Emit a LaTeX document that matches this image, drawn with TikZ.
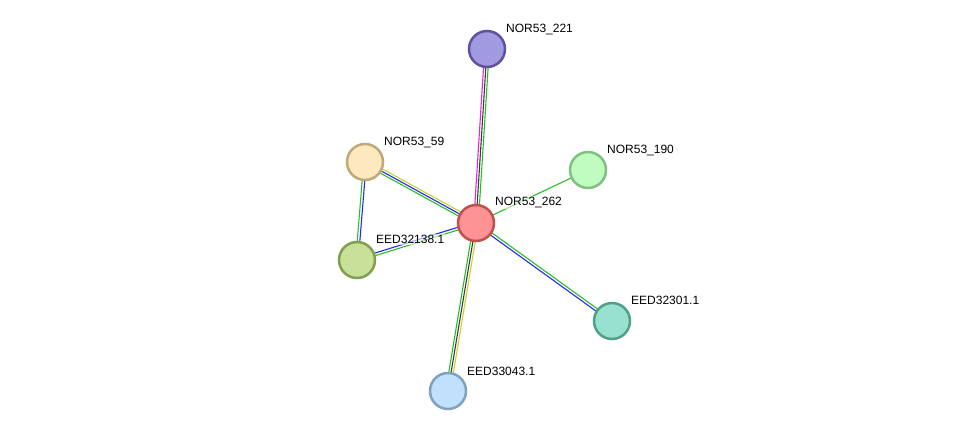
\documentclass[tikz,border=0pt]{standalone}
\usepackage{fontspec}
\setmainfont{Liberation Sans}
\usetikzlibrary{calc,backgrounds}
\definecolor{magenta1}{RGB}{220,40,220}
\definecolor{green1}{RGB}{40,190,40}
\definecolor{blue1}{RGB}{40,40,240}
\definecolor{yellow1}{RGB}{200,210,40}
\definecolor{gray1}{RGB}{60,60,60}
\tikzset{
  prot/.style={circle, minimum size=36pt, inner sep=0pt, line width=2.5pt},
  lbl/.style={anchor=west, inner sep=1pt, font=\fontsize{12}{14}\selectfont},
  lnk/.style={line width=1.1pt}
}
\newcommand{\lnkline}[4]{\draw[lnk, #4] ($(#1)!#3!90:(#2)$) -- ($(#2)!#3!-90:(#1)$);}

\begin{document}
\begin{tikzpicture}[x=1pt, y=-1pt]
\useasboundingbox (0,0) rectangle (975,437);
\node[prot, fill={rgb,255:red,162;green,154;blue,224}, draw={rgb,255:red,96;green,80;blue,160}] (n221) at (487,49) {};
\node[prot, fill={rgb,255:red,255;green,146;blue,146}, draw={rgb,255:red,192;green,80;blue,80}] (n262) at (476,223) {};
\node[prot, fill={rgb,255:red,253;green,232;blue,192}, draw={rgb,255:red,192;green,168;blue,120}] (n59) at (365,162) {};
\node[prot, fill={rgb,255:red,192;green,252;blue,192}, draw={rgb,255:red,128;green,192;blue,128}] (n190) at (588,170) {};
\node[prot, fill={rgb,255:red,200;green,224;blue,152}, draw={rgb,255:red,128;green,160;blue,80}] (e32138) at (357,260) {};
\node[prot, fill={rgb,255:red,152;green,224;blue,208}, draw={rgb,255:red,80;green,160;blue,136}] (e32301) at (612,321) {};
\node[prot, fill={rgb,255:red,192;green,224;blue,252}, draw={rgb,255:red,128;green,160;blue,192}] (e33043) at (448,391) {};

\begin{scope}[on background layer]
\lnkline{n262}{n221}{2.3pt}{magenta1}
\lnkline{n262}{n221}{0pt}{gray1}
\lnkline{n262}{n221}{-2.3pt}{green1}
\lnkline{n262}{n59}{-2.3pt}{yellow1}
\lnkline{n262}{n59}{0pt}{blue1}
\lnkline{n262}{n59}{2.3pt}{green1}
\lnkline{n59}{e32138}{-1.3pt}{green1}
\lnkline{n59}{e32138}{1.3pt}{blue1}
\lnkline{n262}{e32138}{-1.3pt}{blue1}
\lnkline{n262}{e32138}{1.3pt}{green1}
\lnkline{n262}{n190}{0pt}{green1}
\lnkline{n262}{e32301}{-1.3pt}{blue1}
\lnkline{n262}{e32301}{1.3pt}{green1}
\lnkline{n262}{e33043}{2.3pt}{yellow1}
\lnkline{n262}{e33043}{0pt}{gray1}
\lnkline{n262}{e33043}{-2.3pt}{green1}
\end{scope}

\node[lbl] (t221) at (505,29.5) {NOR53\_221};
\node[lbl] (t59) at (383,142.5) {NOR53\_59};
\node[lbl] (t190) at (606,150.5) {NOR53\_190};
\node[lbl, fill=white, fill opacity=0.6, text opacity=1] (t262) at (494,202.5) {NOR53\_262};
\node[lbl, fill=white, fill opacity=0.6, text opacity=1] (t32138) at (375,239.5) {EED32138.1};
\node[lbl] (t32301) at (630,300.5) {EED32301.1};
\node[lbl] (t33043) at (466,371.5) {EED33043.1};
\end{tikzpicture}
\end{document}
